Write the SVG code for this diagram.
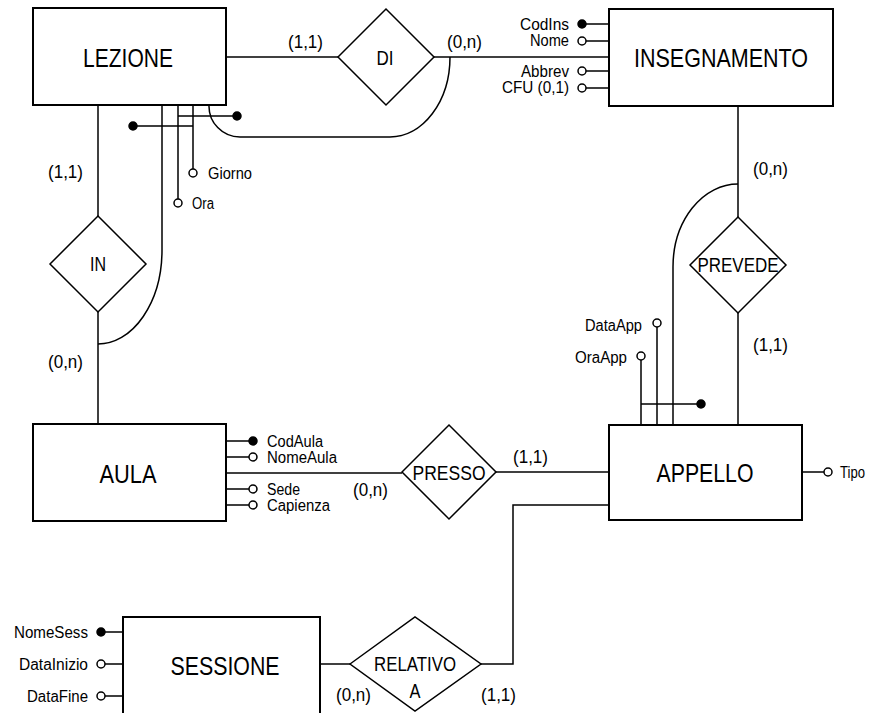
<svg xmlns="http://www.w3.org/2000/svg" width="871" height="713" viewBox="0 0 871 713">
<style>
.box{fill:#fff;stroke:#000;stroke-width:2}
.dia{fill:#fff;stroke:#000;stroke-width:1.5}
.ln{fill:none;stroke:#000;stroke-width:1.5}
.t{font-family:"Liberation Sans",Arial,sans-serif;fill:#000}
.e{font-size:26px;text-anchor:middle}
.r{font-size:20px;text-anchor:middle}
.c{font-size:19px}
.a{font-size:16px}
.end{text-anchor:end}
.k{fill:#000;stroke:#000;stroke-width:1.5}
.o{fill:#fff;stroke:#000;stroke-width:1.5}
</style>
<rect width="871" height="713" fill="#fff"/>
<g id="connectors">
<path class="ln" d="M226,57 H338"/>
<path class="ln" d="M433,57 H609"/>
<path class="ln" d="M98,105 V216"/>
<path class="ln" d="M98,312 V424"/>
<path class="ln" d="M162,105 V250 A64,94 0 0 1 98,344"/>
<path class="ln" d="M209,105 A31,31 0 0 0 240,137 H390 A60,80 0 0 0 450,57"/>
<path class="ln" d="M226,473 H402"/>
<path class="ln" d="M496,472 H609"/>
<path class="ln" d="M738,106 V217"/>
<path class="ln" d="M738,313 V425"/>
<path class="ln" d="M738,184 A65,83 0 0 0 673,267 V425"/>
<path class="ln" d="M609,505 H513 V664 H481"/>
<path class="ln" d="M320,664 H350"/>
</g>
<g id="attr-lezione">
<path class="ln" d="M178,105 V199 M193,105 V169 M137,126 H193 M178,116 H233"/>
<circle class="k" cx="133" cy="126" r="4"/>
<circle class="k" cx="237" cy="116" r="4"/>
<circle class="o" cx="193" cy="173" r="4"/>
<circle class="o" cx="178" cy="203" r="4"/>
<text class="t a" x="208" y="179" textLength="44" lengthAdjust="spacingAndGlyphs">Giorno</text>
<text class="t a" x="192" y="209" textLength="22" lengthAdjust="spacingAndGlyphs">Ora</text>
</g>
<g id="attr-insegnamento">
<path class="ln" d="M586,24 H609 M586,41 H609 M586,71 H609 M586,88 H609"/>
<circle class="k" cx="582" cy="24" r="4"/>
<circle class="o" cx="582" cy="41" r="4"/>
<circle class="o" cx="582" cy="71" r="4"/>
<circle class="o" cx="582" cy="88" r="4"/>
<text class="t a end" x="569" y="30" textLength="49" lengthAdjust="spacingAndGlyphs">CodIns</text>
<text class="t a end" x="569" y="46" textLength="39" lengthAdjust="spacingAndGlyphs">Nome</text>
<text class="t a end" x="569" y="77" textLength="48" lengthAdjust="spacingAndGlyphs">Abbrev</text>
<text class="t a end" x="569" y="93" textLength="67" lengthAdjust="spacingAndGlyphs">CFU (0,1)</text>
</g>
<g id="attr-aula">
<path class="ln" d="M226,441 H249 M226,457 H249 M226,489 H249 M226,505 H249"/>
<circle class="k" cx="253" cy="441" r="4"/>
<circle class="o" cx="253" cy="457" r="4"/>
<circle class="o" cx="253" cy="489" r="4"/>
<circle class="o" cx="253" cy="505" r="4"/>
<text class="t a" x="267" y="447" textLength="56" lengthAdjust="spacingAndGlyphs">CodAula</text>
<text class="t a" x="267" y="463" textLength="70" lengthAdjust="spacingAndGlyphs">NomeAula</text>
<text class="t a" x="267" y="495" textLength="33" lengthAdjust="spacingAndGlyphs">Sede</text>
<text class="t a" x="267" y="511" textLength="63" lengthAdjust="spacingAndGlyphs">Capienza</text>
</g>
<g id="attr-appello">
<path class="ln" d="M641,360 V425 M657,327 V425 M641,404 H697 M802,472 H824"/>
<circle class="o" cx="657" cy="323" r="4"/>
<circle class="o" cx="641" cy="356" r="4"/>
<circle class="k" cx="701" cy="404" r="4"/>
<circle class="o" cx="828" cy="472" r="4"/>
<text class="t a end" x="642" y="331" textLength="57" lengthAdjust="spacingAndGlyphs">DataApp</text>
<text class="t a end" x="627" y="363" textLength="52" lengthAdjust="spacingAndGlyphs">OraApp</text>
<text class="t a" x="840" y="478" textLength="25" lengthAdjust="spacingAndGlyphs">Tipo</text>
</g>
<g id="attr-sessione">
<path class="ln" d="M105,632 H123 M105,664 H123 M105,696 H123"/>
<circle class="k" cx="101" cy="632" r="4"/>
<circle class="o" cx="101" cy="664" r="4"/>
<circle class="o" cx="101" cy="696" r="4"/>
<text class="t a end" x="88" y="638" textLength="74" lengthAdjust="spacingAndGlyphs">NomeSess</text>
<text class="t a end" x="88" y="670" textLength="69" lengthAdjust="spacingAndGlyphs">DataInizio</text>
<text class="t a end" x="88" y="702" textLength="61" lengthAdjust="spacingAndGlyphs">DataFine</text>
</g>
<g id="lezione"><rect class="box" x="33" y="8" width="193" height="97"/><text class="t e" x="128" y="67" textLength="90" lengthAdjust="spacingAndGlyphs">LEZIONE</text></g>
<g id="insegnamento"><rect class="box" x="609" y="9" width="224" height="97"/><text class="t e" x="721" y="67" textLength="174" lengthAdjust="spacingAndGlyphs">INSEGNAMENTO</text></g>
<g id="aula"><rect class="box" x="33" y="424" width="193" height="97"/><text class="t e" x="128" y="483" textLength="57" lengthAdjust="spacingAndGlyphs">AULA</text></g>
<g id="appello"><rect class="box" x="609" y="425" width="193" height="95"/><text class="t e" x="705" y="482" textLength="97" lengthAdjust="spacingAndGlyphs">APPELLO</text></g>
<g id="sessione"><rect class="box" x="123" y="617" width="197" height="98"/><text class="t e" x="225" y="675" textLength="109" lengthAdjust="spacingAndGlyphs">SESSIONE</text></g>
<g id="di"><polygon class="dia" points="338,57 386,9 434,57 386,105"/><text class="t r" x="385" y="65" textLength="17" lengthAdjust="spacingAndGlyphs">DI</text></g>
<g id="in"><polygon class="dia" points="50,264 98,216 146,264 98,312"/><text class="t r" x="98" y="271" textLength="16" lengthAdjust="spacingAndGlyphs">IN</text></g>
<g id="presso"><polygon class="dia" points="402,472 449,425 496,472 449,519"/><text class="t r" x="449" y="480" textLength="73" lengthAdjust="spacingAndGlyphs">PRESSO</text></g>
<g id="prevede"><polygon class="dia" points="690,265 738,217 786,265 738,313"/><text class="t r" x="738" y="272" textLength="81" lengthAdjust="spacingAndGlyphs">PREVEDE</text></g>
<g id="relativo"><polygon class="dia" points="350,664 415,617 481,664 415,711"/><text class="t r" x="415" y="671" textLength="82" lengthAdjust="spacingAndGlyphs">RELATIVO</text><text class="t r" x="415" y="698" textLength="11" lengthAdjust="spacingAndGlyphs">A</text></g>
<g id="cardinalities">
<text class="t c" x="288" y="48" textLength="35" lengthAdjust="spacingAndGlyphs">(1,1)</text>
<text class="t c" x="447" y="48" textLength="35" lengthAdjust="spacingAndGlyphs">(0,n)</text>
<text class="t c" x="48" y="178" textLength="35" lengthAdjust="spacingAndGlyphs">(1,1)</text>
<text class="t c" x="48" y="368" textLength="35" lengthAdjust="spacingAndGlyphs">(0,n)</text>
<text class="t c" x="353" y="496" textLength="35" lengthAdjust="spacingAndGlyphs">(0,n)</text>
<text class="t c" x="513" y="463" textLength="35" lengthAdjust="spacingAndGlyphs">(1,1)</text>
<text class="t c" x="753" y="175" textLength="35" lengthAdjust="spacingAndGlyphs">(0,n)</text>
<text class="t c" x="753" y="351" textLength="35" lengthAdjust="spacingAndGlyphs">(1,1)</text>
<text class="t c" x="336" y="701" textLength="35" lengthAdjust="spacingAndGlyphs">(0,n)</text>
<text class="t c" x="481" y="701" textLength="35" lengthAdjust="spacingAndGlyphs">(1,1)</text>
</g>
</svg>
